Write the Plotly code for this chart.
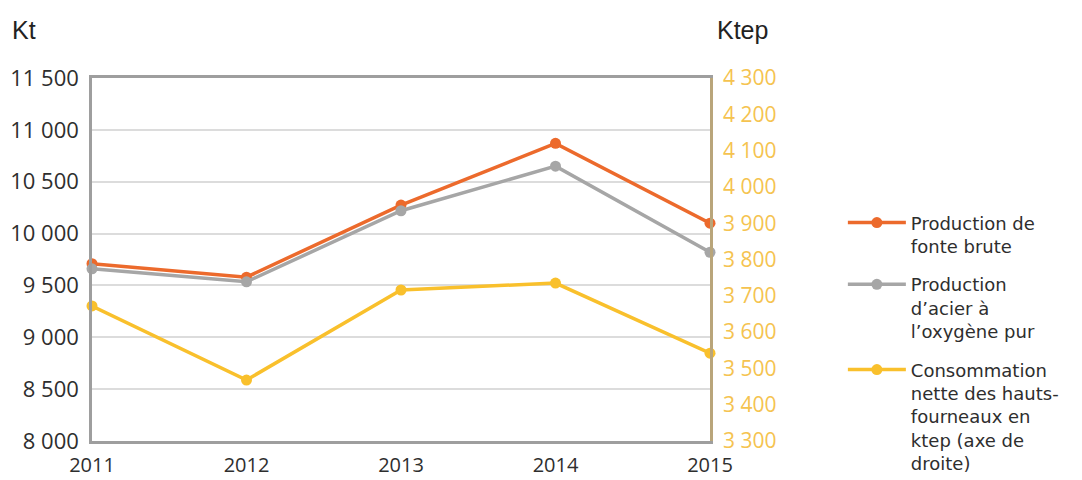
import plotly.graph_objects as go

# Annual figures, 2011-2015
years = [2011, 2012, 2013, 2014, 2015]
fonte_brute = [9710, 9580, 10275, 10870, 10100]          # Kt, left axis
acier_oxygene = [9660, 9535, 10220, 10650, 9820]         # Kt, left axis
conso_hf = [3672, 3468, 3716, 3735, 3542]                # ktep, right axis

names = [
    "Production de<br>fonte brute",
    "Production<br>d’acier à<br>l’oxygène pur",
    "Consommation<br>nette des hauts-<br>fourneaux en<br>ktep (axe de<br>droite)",
]

left_ticks = [8000, 8500, 9000, 9500, 10000, 10500, 11000, 11500]
right_ticks = [3300, 3400, 3500, 3600, 3700, 3800, 3900, 4000, 4100, 4200, 4300]

ORANGE = "#EC6A2C"
GREY = "#A6A6A6"
YELLOW = "#F9C02C"
TICK_YELLOW = "#F5C350"
TEXT = "#2E2E2E"

MARGIN_L, MARGIN_R, MARGIN_T, MARGIN_B = 92, 372, 78, 39
W, H = 1082, 480
plot_w = W - MARGIN_L - MARGIN_R
plot_h = H - MARGIN_T - MARGIN_B

fig = go.Figure()
for ys, name, color, axis, grp in [
    (fonte_brute, names[0], ORANGE, "y", "a"),
    (acier_oxygene, names[1], GREY, "y", "b"),
    (conso_hf, names[2], YELLOW, "y2", "c"),
]:
    fig.add_trace(go.Scatter(
        x=years, y=ys, name=name, yaxis=axis, legendgroup=grp,
        mode="lines+markers",
        line=dict(color=color, width=3.5),
        marker=dict(color=color, size=11),
        cliponaxis=False,
    ))

fig.update_layout(
    width=W, height=H,
    margin=dict(l=MARGIN_L, r=MARGIN_R, t=MARGIN_T, b=MARGIN_B, autoexpand=False),
    paper_bgcolor="white", plot_bgcolor="white",
    separators=". ",
    font=dict(family="Open Sans", color=TEXT),
    showlegend=True,
    legend=dict(
        x=1.215, y=0.652, xanchor="left", yanchor="top",
        font=dict(size=18, color=TEXT, family="DejaVu Sans"),
        valign="top", tracegroupgap=12, itemwidth=58,
        bgcolor="rgba(0,0,0,0)",
    ),
    xaxis=dict(
        range=[2011, 2015], tickvals=years, ticktext=[str(y) for y in years],
        showgrid=False, zeroline=False, automargin=False,
        showline=True, linecolor="#9E9E9E", linewidth=2.5, mirror=True,
        tickfont=dict(size=20, color=TEXT), ticks="", ticklabelstandoff=4,
    ),
    yaxis=dict(
        range=[8000, 11500], tickvals=left_ticks, separatethousands=True,
        tickformat=",d", automargin=False,
        showgrid=True, gridcolor="#DCDCDC", gridwidth=1.5, zeroline=False,
        showline=True, linecolor="#9E9E9E", linewidth=2.5,
        tickfont=dict(size=22, color=TEXT), ticks="", ticklabelstandoff=6,
    ),
    yaxis2=dict(
        range=[3300, 4300], tickvals=right_ticks, separatethousands=True,
        tickformat=",d", automargin=False,
        overlaying="y", side="right", showgrid=False, zeroline=False,
        showline=True, linecolor="#B9A57A", linewidth=2.5,
        tickfont=dict(size=21, color=TICK_YELLOW), ticks="", ticklabelstandoff=6,
    ),
    annotations=[
        dict(text="Kt", x=(10 - MARGIN_L) / plot_w, y=(H - MARGIN_B - 30) / plot_h,
             xref="paper", yref="paper", xanchor="left", yanchor="middle",
             showarrow=False, font=dict(family="Liberation Sans", size=25, color="#222222")),
        dict(text="Ktep", x=(715 - MARGIN_L) / plot_w, y=(H - MARGIN_B - 30) / plot_h,
             xref="paper", yref="paper", xanchor="left", yanchor="middle",
             showarrow=False, font=dict(family="Liberation Sans", size=25, color="#222222")),
    ],
)

fig.write_html("out.html")
